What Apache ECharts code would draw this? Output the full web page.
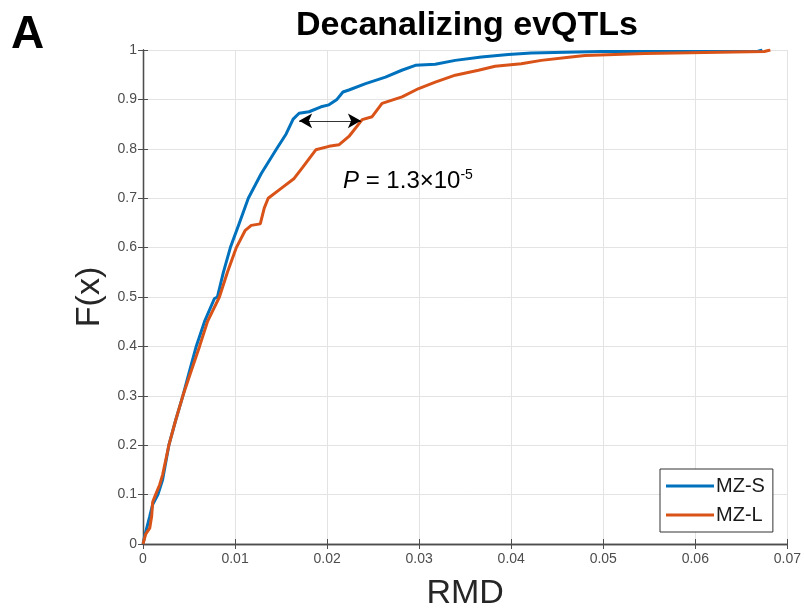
<!DOCTYPE html>
<html>
<head>
<meta charset="utf-8">
<script src="https://cdn.jsdelivr.net/npm/echarts@6/dist/echarts.min.js"></script>
<style>html,body{margin:0;padding:0;background:#fff;overflow:hidden;}#c{width:804px;height:616px;}</style>
</head>
<body>
<div id="c"></div>
<script>
// ---- data ----
const xTicks = [0, 0.01, 0.02, 0.03, 0.04, 0.05, 0.06, 0.07];
const yTicks = [0, 0.1, 0.2, 0.3, 0.4, 0.5, 0.6, 0.7, 0.8, 0.9, 1];
const seriesNames = ['MZ-S', 'MZ-L'];

const mzS_x = [0, 0.00018, 0.00073, 0.00105, 0.00162, 0.00213, 0.00281, 0.00354, 0.00433, 0.00505,
  0.00578, 0.00668, 0.00776, 0.00808, 0.00873, 0.00949, 0.01047, 0.01144, 0.01285, 0.01452,
  0.01555, 0.01631, 0.01696, 0.01804, 0.01934, 0.0202, 0.02107, 0.02172, 0.02237, 0.02418,
  0.02634, 0.02811, 0.02959, 0.03175, 0.03392, 0.03676, 0.03969, 0.04218, 0.04975, 0.06674, 0.06728];
const mzS_y = [0, 0.016, 0.056, 0.08, 0.1, 0.13, 0.2, 0.25, 0.3, 0.35,
  0.4, 0.45, 0.497, 0.5, 0.55, 0.6, 0.65, 0.7, 0.75, 0.8,
  0.83, 0.86, 0.872, 0.875, 0.885, 0.889, 0.9, 0.915, 0.919, 0.932,
  0.945, 0.959, 0.969, 0.971, 0.979, 0.986, 0.991, 0.994, 0.997, 0.997, 1.0];

const mzL_x = [0, 0.00029, 0.00073, 0.00094, 0.00105, 0.00137, 0.00181, 0.00213, 0.00281, 0.00354,
  0.00433, 0.00505, 0.00614, 0.007, 0.0083, 0.00917, 0.01014, 0.01111, 0.01176, 0.01274,
  0.01317, 0.0136, 0.01501, 0.01642, 0.01732, 0.01877, 0.0202, 0.02128, 0.02237, 0.02381,
  0.02489, 0.02597, 0.02814, 0.02995, 0.03175, 0.03392, 0.03644, 0.03825, 0.04109, 0.04326,
  0.0465, 0.04802, 0.05451, 0.0675, 0.06815];
const mzL_y = [0, 0.02, 0.032, 0.056, 0.085, 0.1, 0.12, 0.14, 0.2, 0.25,
  0.3, 0.34, 0.4, 0.45, 0.5, 0.55, 0.6, 0.635, 0.645, 0.648,
  0.68, 0.7, 0.72, 0.74, 0.762, 0.798, 0.805, 0.808, 0.825, 0.859,
  0.865, 0.892, 0.905, 0.922, 0.935, 0.949, 0.959, 0.967, 0.972, 0.979,
  0.986, 0.989, 0.993, 0.997, 1.0];

// annotation: double arrow between the curves and p-value
const arrowFrom = [0.01696, 0.8566];
const arrowTo = [0.02367, 0.8566];
const pText = { P: 'P', rest: ' = 1.3×10', exp: '-5' };

// ---- chart ----
const zip = (xs, ys) => xs.map((x, i) => [x, ys[i]]);
const axisColor = '#4d4d4d';
const labelColor = '#4d4d4d';
const fontFam = '"Liberation Sans", Arial, Helvetica, sans-serif';

const chart = echarts.init(document.getElementById('c'), null, { renderer: 'canvas' });

function fmtX(v) { return v === 0 ? '0' : v.toFixed(2); }
function fmtY(v) { return (v === 0 || v === 1) ? String(v) : v.toFixed(1); }

const xMin = xTicks[0], xMax = xTicks[xTicks.length - 1];
const yMin = yTicks[0], yMax = yTicks[yTicks.length - 1];
const xInt = xTicks[1] - xTicks[0], yInt = yTicks[1] - yTicks[0];

const baseAxisLine = { show: true, lineStyle: { color: axisColor, width: 1.3 } };

chart.setOption({
  animation: false,
  backgroundColor: '#ffffff',
  textStyle: { fontFamily: fontFam },
  title: [
    { text: 'A', left: 11, top: 12, padding: 0,
      textStyle: { fontSize: 46, fontWeight: 'bold', color: '#000', fontFamily: fontFam } },
    { text: 'Decanalizing evQTLs', left: 467, top: 9, padding: 0, textAlign: 'center',
      textStyle: { fontSize: 34, fontWeight: 'bold', color: '#000', fontFamily: fontFam } }
  ],
  grid: { left: 143, right: 14, top: 50, bottom: 68, containLabel: false },
  legend: {
    orient: 'vertical', left: 660, top: 469,
    backgroundColor: '#fff', borderColor: '#333', borderWidth: 1,
    padding: [7, 8, 7, 6], itemGap: 9, itemWidth: 48, itemHeight: 3,
    icon: 'rect',
    textStyle: { fontSize: 20, color: '#1a1a1a', fontFamily: fontFam, padding: [0, 0, 0, -3] },
    data: seriesNames
  },
  xAxis: [
    { type: 'value', min: xMin, max: xMax, interval: xInt, position: 'bottom',
      name: 'RMD', nameLocation: 'middle', nameGap: 33,
      nameTextStyle: { fontSize: 34, color: '#262626', fontFamily: fontFam },
      axisLine: baseAxisLine,
      axisTick: { show: true, inside: true, length: 5, lineStyle: { color: axisColor } },
      axisLabel: { formatter: fmtX, fontSize: 14, color: labelColor, margin: 8, showMinLabel: true, showMaxLabel: true },
      splitLine: { show: true, lineStyle: { color: '#e3e3e3', width: 1 } } },
    { type: 'value', min: xMin, max: xMax, interval: xInt, position: 'top',
      axisLine: baseAxisLine,
      axisTick: { show: true, inside: true, length: 5, lineStyle: { color: axisColor } },
      axisLabel: { show: false }, splitLine: { show: false } }
  ],
  yAxis: [
    { type: 'value', min: yMin, max: yMax, interval: yInt, position: 'left',
      name: 'F(x)', nameLocation: 'middle', nameGap: 27, nameRotate: 90,
      nameTextStyle: { fontSize: 34, color: '#262626', fontFamily: fontFam },
      axisLine: baseAxisLine,
      axisTick: { show: true, inside: true, length: 5, lineStyle: { color: axisColor } },
      axisLabel: { formatter: fmtY, fontSize: 14, color: labelColor, margin: 6, showMinLabel: true, showMaxLabel: true },
      splitLine: { show: true, lineStyle: { color: '#e3e3e3', width: 1 } } },
    { type: 'value', min: yMin, max: yMax, interval: yInt, position: 'right',
      axisLine: baseAxisLine,
      axisTick: { show: true, inside: true, length: 5, lineStyle: { color: axisColor } },
      axisLabel: { show: false }, splitLine: { show: false } }
  ],
  series: [
    { name: seriesNames[0], type: 'line', xAxisIndex: 0, yAxisIndex: 0,
      data: zip(mzS_x, mzS_y), showSymbol: false, symbol: 'none',
      lineStyle: { color: '#0072BD', width: 3 }, itemStyle: { color: '#0072BD' }, z: 3,
      markLine: {
        silent: true, symbol: ['arrow', 'arrow'], symbolSize: [11, 13],
        label: { show: false },
        lineStyle: { color: '#000', width: 0.8, type: 'solid' },
        data: [[{ coord: arrowFrom }, { coord: arrowTo }]]
      } },
    { name: seriesNames[1], type: 'line', xAxisIndex: 0, yAxisIndex: 0,
      data: zip(mzL_x, mzL_y), showSymbol: false, symbol: 'none',
      lineStyle: { color: '#D95319', width: 3 }, itemStyle: { color: '#D95319' }, z: 4 }
  ],
  graphic: [
    { type: 'text', left: 343, top: 168, z: 10,
      style: {
        text: '{i|' + pText.P + '}{n|' + pText.rest + '}{s|' + pText.exp + '}',
        rich: {
          i: { fontSize: 24, fontStyle: 'italic', fill: '#000', fontFamily: fontFam },
          n: { fontSize: 24, fill: '#000', fontFamily: fontFam },
          s: { fontSize: 14, fill: '#000', fontFamily: fontFam, verticalAlign: 'top', padding: [0, 0, 12, 0] }
        }
      } }
  ]
});
</script>
</body>
</html>
